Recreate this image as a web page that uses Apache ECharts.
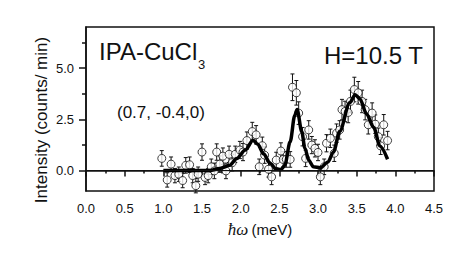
<!DOCTYPE html>
<html>
<head>
<meta charset="utf-8">
<script src="https://cdn.jsdelivr.net/npm/echarts@6/dist/echarts.min.js"></script>
<style>
html,body{margin:0;padding:0;background:#fff;}
#c{width:474px;height:273px;}
</style>
</head>
<body>
<div id="c"></div>
<script>
// Data (energy in meV, intensity in counts/min)
const energy = [0.98,1.05,1.10,1.15,1.20,1.25,1.29,1.34,1.38,1.42,1.45,1.50,1.54,1.58,1.62,1.66,1.69,1.73,1.77,1.81,1.85,1.89,1.93,1.99,2.03,2.08,2.15,2.20,2.24,2.28,2.31,2.36,2.40,2.46,2.52,2.55,2.59,2.64,2.67,2.72,2.75,2.80,2.84,2.88,2.92,2.96,3.00,3.03,3.08,3.11,3.16,3.21,3.24,3.28,3.31,3.35,3.39,3.42,3.47,3.52,3.57,3.61,3.65,3.70,3.74,3.78,3.81,3.85,3.90];
const intensity = [0.59,-0.46,0.31,-0.25,-0.18,-0.49,0.25,0.28,-0.25,-0.74,-0.18,0.90,-0.34,-0.25,0.18,-0.02,0.90,0.31,0.70,-0.02,0.79,0.38,0.79,1.00,0.90,1.46,1.90,1.74,0.18,1.21,0.75,0.06,-0.31,0.51,0.95,0.54,0.54,0.54,4.06,3.79,2.80,1.65,0.59,1.98,1.24,1.08,0.88,-0.31,0.18,1.33,1.57,0.84,1.82,1.98,2.97,2.88,2.83,3.37,3.95,3.79,3.37,2.97,2.23,2.80,2.26,1.65,1.20,2.23,1.46];
const errors = [0.38,0.35,0.35,0.35,0.35,0.35,0.38,0.38,0.35,0.35,0.35,0.40,0.35,0.35,0.38,0.38,0.40,0.40,0.40,0.38,0.40,0.40,0.40,0.42,0.42,0.42,0.45,0.45,0.38,0.42,0.40,0.38,0.38,0.38,0.40,0.38,0.38,0.38,0.65,0.60,0.55,0.45,0.40,0.45,0.42,0.42,0.40,0.38,0.38,0.42,0.45,0.40,0.45,0.45,0.50,0.50,0.50,0.55,0.60,0.55,0.55,0.50,0.45,0.50,0.45,0.42,0.42,0.50,0.45];
const fitEnergy = [1.00,1.20,1.40,1.60,1.73,1.86,1.95,2.06,2.16,2.22,2.30,2.38,2.46,2.52,2.57,2.64,2.70,2.73,2.79,2.83,2.88,2.94,3.03,3.13,3.20,3.28,3.41,3.48,3.54,3.63,3.72,3.80,3.90];
const fitIntensity = [0.00,0.00,0.00,0.00,0.10,0.26,0.59,1.00,1.48,1.28,0.80,0.35,0.07,0.05,0.25,1.40,2.70,2.97,1.90,1.10,0.50,0.18,0.13,0.42,0.90,1.90,3.30,3.70,3.50,2.75,2.10,1.20,0.55];
const xTicks = {min: 0, max: 4.5, step: 0.5};
const yMajor = [0, 2.5, 5.0];
const yMinor = [1.25, 3.75, 6.25];
const yRange = {min: -1, max: 7};

const chart = echarts.init(document.getElementById('c'), null, {renderer: 'svg'});
const ink = '#111';
const pts = energy.map((e, i) => [e, intensity[i], errors[i]]);
const fit = fitEnergy.map((e, i) => [e, fitIntensity[i]]);

chart.setOption({
  animation: false,
  backgroundColor: '#fff',
  grid: {left: 86, right: 40, top: 27, bottom: 82, show: true, borderColor: ink, borderWidth: 1.5, backgroundColor: 'transparent'},
  xAxis: {
    type: 'value', min: xTicks.min, max: xTicks.max, interval: xTicks.step,
    axisLine: {show: true, lineStyle: {color: ink, width: 1.5}},
    axisTick: {show: true, length: 6, lineStyle: {color: ink, width: 1.5}},
    minorTick: {show: true, splitNumber: 2, length: 3, lineStyle: {color: ink, width: 1.5}},
    splitLine: {show: false},
    axisLabel: {color: ink, fontSize: 13, fontFamily: 'Liberation Sans', margin: 11, formatter: v => v.toFixed(1)},
    name: '{h|ħω} {t|(meV)}', nameLocation: 'middle', nameGap: 30,
    nameTextStyle: {rich: {
      h: {fontFamily: 'Liberation Serif', fontStyle: 'italic', fontSize: 17, color: ink},
      t: {fontFamily: 'Liberation Sans', fontSize: 15, color: ink}
    }}
  },
  yAxis: [{
    type: 'value', min: yRange.min, max: yRange.max,
    axisLine: {show: true, onZero: false, lineStyle: {color: ink, width: 1.5}},
    axisTick: {show: true, length: 7, customValues: yMajor, lineStyle: {color: ink, width: 1.5}},
    axisLabel: {color: ink, fontSize: 13, fontFamily: 'Liberation Sans', margin: 12, customValues: yMajor, formatter: v => v.toFixed(1)},
    splitLine: {show: false}
  }, {
    type: 'value', min: yRange.min, max: yRange.max, position: 'left',
    axisLine: {show: false},
    axisTick: {show: true, length: 4, customValues: yMinor, lineStyle: {color: ink, width: 1.5}},
    axisLabel: {show: false},
    splitLine: {show: false}
  }],
  graphic: [
    {type: 'text', x: 41, y: 120, rotation: Math.PI / 2, style: {text: 'Intensity (counts/ min)', fill: ink, font: '17px "Liberation Sans"', align: 'center', verticalAlign: 'middle'}},
    {type: 'text', x: 99, y: 51, style: {text: 'IPA-CuCl', fill: ink, font: '24px "Liberation Sans"', align: 'left', verticalAlign: 'middle'}},
    {type: 'text', x: 198, y: 64, style: {text: '3', fill: ink, font: '13px "Liberation Sans"', align: 'left', verticalAlign: 'middle'}},
    {type: 'text', x: 324, y: 55, style: {text: 'H=10.5 T', fill: ink, font: '24px "Liberation Sans"', align: 'left', verticalAlign: 'middle'}},
    {type: 'text', x: 117, y: 112, style: {text: '(0.7, -0.4,0)', fill: ink, font: '17px "Liberation Sans"', align: 'left', verticalAlign: 'middle'}}
  ],
  series: [
    {
      type: 'custom', z: 2,
      data: pts,
      renderItem: function (params, api) {
        const x = api.value(0), y = api.value(1), e = api.value(2);
        const top = api.coord([x, y + e]);
        const bot = api.coord([x, y - e]);
        const s = {stroke: ink, lineWidth: 1};
        return {type: 'group', children: [
          {type: 'line', shape: {x1: top[0], y1: top[1], x2: bot[0], y2: bot[1]}, style: s},
          {type: 'line', shape: {x1: top[0] - 2, y1: top[1], x2: top[0] + 2, y2: top[1]}, style: s},
          {type: 'line', shape: {x1: bot[0] - 2, y1: bot[1], x2: bot[0] + 2, y2: bot[1]}, style: s}
        ]};
      }
    },
    {
      type: 'scatter', z: 3, data: pts.map(p => [p[0], p[1]]),
      symbol: 'circle', symbolSize: 8,
      itemStyle: {color: '#fff', borderColor: ink, borderWidth: 1},
      markLine: {silent: true, symbol: 'none', label: {show: false},
        lineStyle: {color: ink, width: 1, type: 'solid'}, data: [{yAxis: 0}]}
    },
    {
      type: 'line', z: 4, data: fit, showSymbol: false, symbol: 'none',
      smooth: 0.3, smoothMonotone: 'x',
      lineStyle: {color: '#000', width: 3.5}
    }
  ]
});
</script>
</body>
</html>
